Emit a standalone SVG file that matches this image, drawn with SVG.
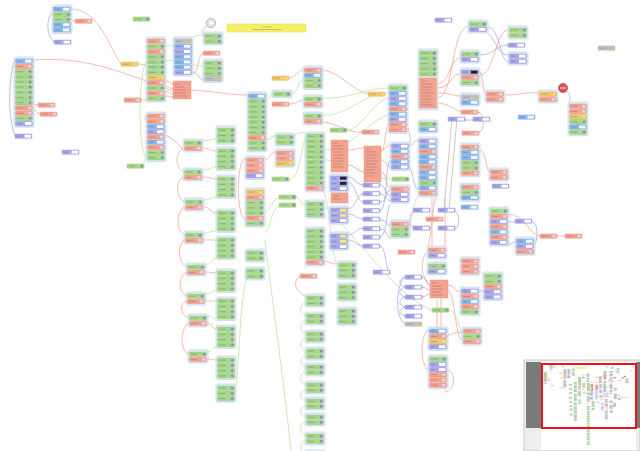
<svg xmlns="http://www.w3.org/2000/svg" width="640" height="451" viewBox="0 0 640 451">
<style>
.c{fill:#e3edf9;stroke:#c3d7ef;stroke-width:.8}
.k{fill:none;stroke-width:.75;stroke-linecap:round}
.r{stroke:#f3a493}
.g{stroke:#bde09f}
.p{stroke:#aaa7e4}
.q{stroke:#b8b8b8}
.sb{fill:#f6a390;stroke:#e8836e;stroke-width:.4}
.tl{fill:none;stroke:#333;stroke-width:.8;opacity:.3}
</style>
<defs>
<g id="G"><rect width="17" height="4.3" rx=".7" fill="#a8d98a" stroke="#88c566" stroke-width=".4"/><path class="tl" d="M1.6 2.2h6.5"/><circle cx="14.7" cy="2.15" r="1.3" fill="#8e88c6"/></g>
<g id="R"><rect width="17" height="4.3" rx=".7" fill="#f6a491" stroke="#e8836e" stroke-width=".4"/><path class="tl" d="M1.6 2.2h6.5"/><rect x="12.6" y=".8" width="3.3" height="2.7" fill="#dcd6e8"/></g>
<g id="B"><rect width="17" height="4.3" rx=".7" fill="#8cb7ea" stroke="#6d9bd9" stroke-width=".4"/><path class="tl" d="M1.6 2.2h5"/><rect x="9.5" y=".7" width="6.5" height="2.9" fill="#f4f8ff"/></g>
<g id="P"><rect width="17" height="4.3" rx=".7" fill="#aaa8e8" stroke="#8b88d6" stroke-width=".4"/><path class="tl" d="M1.6 2.2h4.5"/><rect x="9.5" y=".7" width="6.5" height="2.9" fill="#fff"/></g>
<g id="Q"><rect width="17" height="4.3" rx=".7" fill="#aaa8e8" stroke="#8b88d6" stroke-width=".4"/><path class="tl" d="M1.6 2.2h4.5"/><rect x="9.5" y=".7" width="6.5" height="2.9" fill="#222"/></g>
<g id="W"><rect width="17" height="4.3" rx=".7" fill="#aaa8e8" stroke="#8b88d6" stroke-width=".4"/><path class="tl" d="M1.6 2.2h4.5"/><rect x="9.5" y=".7" width="6.5" height="2.9" fill="#f5e87a"/></g>
<g id="Y"><rect width="17" height="4.3" rx=".7" fill="#f2c96c" stroke="#d8aa45" stroke-width=".4"/><path class="tl" d="M1.6 2.2h6.5"/><circle cx="14.7" cy="2.15" r="1.3" fill="#f6e08a"/></g>
<g id="K"><rect width="17" height="4.3" rx=".7" fill="#c3c3c3" stroke="#a5a5a5" stroke-width=".4"/><path class="tl" d="M1.6 2.2h6.5"/><circle cx="14.7" cy="2.15" r="1.3" fill="#f0c040"/></g>
<g id="pair"><rect class="c" width="20" height="13" rx="1.5"/><use href="#G" x="1.5" y="2"/><use href="#R" x="1.5" y="7.2"/></g>
<g id="gg"><rect class="c" width="20" height="13" rx="1.5"/><use href="#G" x="1.5" y="2"/><use href="#G" x="1.5" y="7.2"/></g>
<g id="g3"><rect class="c" width="20" height="18.2" rx="1.5"/><use href="#G" x="1.5" y="2"/><use href="#G" x="1.5" y="7.2"/><use href="#G" x="1.5" y="12.4"/></g>
<g id="g4"><rect class="c" width="20" height="23.4" rx="1.5"/><use href="#G" x="1.5" y="2"/><use href="#G" x="1.5" y="7.2"/><use href="#G" x="1.5" y="12.4"/><use href="#G" x="1.5" y="17.6"/></g>
</defs>
<rect width="640" height="451" fill="#fff"/>
<g id="all">
<g id="connectors">
<path class="k r" d="M71,9 C100,9 110,50 121,64 M33,60 C90,55 135,78 173,91 M71,20 C73,20 73,21 75,21 M33,104 C35,104 36,105 38,105 M33,109 C37,110 36,114 40,114 M191,90 C215,91 228,95 247,95 M166,81 C170,81 169,84 173,84 M166,86 C170,86 169,89 173,89 M166,91 C170,91 169,94 173,94 M166,96 C170,96 169,97 173,97 M138,64 C142,64 142,65 146,65 M141,100 C144,100 143,100 146,100 M193,73 C199,73 198,53 203,53 M265,140 C272,140 270,136 275,136 M245,158 C236,162 236,215 245,220 M265,160 C270,160 270,152 275,152 M289,78 C295,78 298,70 303,70 M289,104 C298,104 298,100 303,100 M323,70 C340,72 355,92 368,94 M146,115 C138,125 176,135 183,150 M381,152 C385,152 385,128 388,126 M323,122 C340,124 350,134 362,132"/>
<path class="k r" d="M203,148 C210,148 210,151 216,151 M203,177 C210,177 210,179 216,179 M204,207 C210,207 210,213 216,213 M204,240 C210,240 210,240 216,240 M206,272 C211,272 211,273 216,273 M206,301 C211,301 211,301 216,301 M208,323 C212,323 212,329 216,329 M208,359 C212,359 212,360 216,360"/>
<path class="k r" d="M183,148 C175,153 175,167 183,172 M183,177 C175,182 176,197 184,202 M184,207 C176,213 176,230 184,235 M184,240 C177,246 178,262 186,267 M186,272 C178,278 178,291 186,296 M186,301 C179,305 180,313 188,318 M188,323 C180,330 180,349 188,354"/>
<path class="k r" d="M437,84 C450,84 450,58 460,58 M437,88 C452,88 450,74 460,74 M437,93 C452,93 452,96 460,96 M437,98 C455,98 450,30 468,26 M437,103 C448,103 455,110 461,112 M480,75 C495,75 495,30 508,30 M480,72 C484,72 482,93 485,93 M505,95 C520,95 525,92 538,93 M478,112 C485,112 485,131 479,133 M480,150 C486,150 486,170 489,172 M508,214 C525,214 530,236 540,236 M557,236 C560,236 562,236 565,236 M437,195 C432,200 432,240 427,250 M445,198 L445,246 M432,198 L432,246 M427,252 C420,260 420,275 430,285 M448,285 C455,285 455,292 460,292 M448,290 C455,290 455,340 462,340 M428,330 C420,335 420,365 428,370 M437,300 L437,327 M441,298 L441,327 M382,150 C386,150 386,145 390,145 M382,160 C386,160 386,167 390,167 M382,172 C386,172 386,188 390,188 M348,150 C355,150 357,148 364,148 M348,165 C356,165 356,172 364,172 M323,260 C330,262 330,264 337,264 M300,276 C292,280 295,292 305,296 M408,147 C412,147 410,133 408,128 M448,335 C452,335 455,332 462,332 M448,370 C456,372 456,390 445,392"/>
<path class="k g" d="M146,62 C138,75 138,150 146,158 M166,46 C185,46 188,35 203,35 M166,60 C185,60 190,66 203,66 M143,166 C144,166 144,160 146,158 M265,100 C270,100 270,95 272,93 M293,93 C298,93 298,80 303,80 M265,240 C272,300 284,380 293,470 M247,272 C238,320 240,360 236,386 M265,232 C270,232 272,206 279,206 M265,212 C270,212 273,198 279,198 M289,180 C300,180 300,150 305,140 M296,197 C300,197 300,205 305,205 M323,98 C345,100 368,88 388,88 M323,115 C345,118 365,92 388,93 M348,130 C360,130 375,100 388,98 M323,205 C360,240 400,300 432,310 M323,190 C330,200 330,250 337,265 M408,225 C412,225 414,196 418,196 M448,310 C455,310 458,320 462,335 M203,141 C210,141 210,139 216,139 M203,170 C210,170 210,167 216,167 M204,200 C210,200 210,197 216,197 M204,233 C210,233 210,231 216,231 M206,265 C211,265 211,258 216,258 M206,294 C211,294 211,291 216,291 M208,316 C212,316 212,319 216,319 M208,352 C212,352 212,347 216,347 M293,135 C298,135 300,130 305,134 M325,150 C350,150 370,120 388,115 M325,160 C355,160 365,180 392,179"/>
<path class="k g" d="M305,302 C299,306 299,313 305,316 M305,320 C299,324 299,331 305,334 M305,338 C299,342 299,348 305,351 M305,355 C299,359 299,364 305,367 M305,371 C299,375 299,382 305,385 M305,389 C299,393 299,398 305,401 M305,405 C299,409 299,414 305,417 M305,421 C299,425 299,433 305,436 M305,440 C299,444 299,451 305,454 M305,458 C299,462 299,469 305,472 M305,476 C299,480 299,487 305,490 M305,494 C299,498 299,505 305,508 M305,512 C299,516 299,523 305,526 M305,530 C299,534 299,541 305,544 M305,548 C299,552 299,559 305,562"/>
<path class="k p" d="M52,12 C46,20 46,35 54,42 M14,62 C8,80 8,120 15,136 M193,72 C198,72 198,79 203,80 M348,177 C355,177 356,185 363,185 M348,182 C356,182 356,202 363,202 M348,209 C356,209 356,194 363,194 M348,214 C356,214 356,219 363,219 M348,235 C356,235 356,228 363,228 M348,240 C356,240 356,246 363,246 M380,185 C386,185 385,196 390,196 M380,194 C386,194 385,200 390,201 M380,202 C388,202 385,190 390,190 M380,211 C388,211 385,160 390,160 M380,220 C388,220 386,226 390,226 M380,229 C388,229 386,238 390,238 M380,237 C388,237 386,205 390,205 M380,246 C386,246 386,272 389,272 M408,147 C413,147 413,140 418,140 M408,165 C413,165 413,190 418,190 M405,277 C398,280 398,285 405,287 M405,287 C398,290 398,295 405,297 M405,297 C398,300 398,305 405,307 M405,307 C398,310 398,314 405,316 M405,277 C395,285 395,320 405,324 M422,277 C426,277 426,285 430,285 M422,287 C426,287 426,290 430,290 M422,297 C426,297 426,294 430,294 M480,55 C495,55 495,45 508,45 M480,30 C495,30 495,55 508,55 M488,27 C500,27 500,62 508,62 M465,120 C468,120 470,120 473,120 M415,211 C408,211 408,229 415,229 M455,211 C460,211 460,229 455,229 M508,222 C512,222 512,222 515,222 M533,222 C538,222 538,240 535,244 M508,245 C512,245 512,242 515,242 M478,290 C485,290 485,295 483,297"/>
<path class="k q" d="M452,118 L444,210 M457,118 L449,210 M207,26 C202,29 202,33 204,35 M567,91 C571,95 571,100 568,104"/>
</g>
<g id="n1" transform="translate(52,5)"><rect class="c" width="20" height="28.6" rx="1.5"/><use href="#B" x="1.5" y="2"/><use href="#G" x="1.5" y="7.2"/><use href="#G" x="1.5" y="12.4"/><use href="#B" x="1.5" y="17.6"/><use href="#B" x="1.5" y="22.8"/></g>
<g id="n1b"><use href="#P" x="54" y="40"/></g>
<g id="n2"><use href="#R" x="75" y="19"/></g>
<g id="n3"><use href="#G" x="133" y="17"/></g>
<g id="n4" transform="translate(14,57)"><rect class="c" width="20" height="70.2" rx="1.5"/><use href="#B" x="1.5" y="2"/><use href="#R" x="1.5" y="7.2"/><use href="#G" x="1.5" y="12.4"/><use href="#G" x="1.5" y="17.6"/><use href="#G" x="1.5" y="22.8"/><use href="#G" x="1.5" y="28"/><use href="#G" x="1.5" y="33.2"/><use href="#G" x="1.5" y="38.4"/><use href="#G" x="1.5" y="43.6"/><use href="#R" x="1.5" y="48.8"/><use href="#R" x="1.5" y="54"/><use href="#G" x="1.5" y="59.2"/><use href="#P" x="1.5" y="64.4"/></g>
<g id="n5"><use href="#P" x="15" y="134"/></g>
<g id="n6"><use href="#R" x="38" y="103"/></g>
<g id="n7"><use href="#R" x="40" y="112"/></g>
<g id="n8"><use href="#P" x="62" y="150"/></g>
<g id="n9"><use href="#Y" x="121" y="62"/></g>
<g id="n10"><use href="#R" x="124" y="98"/></g>
<g id="n11" transform="translate(146,37)"><rect class="c" width="20" height="65" rx="1.5"/><use href="#R" x="1.5" y="2"/><use href="#G" x="1.5" y="7.2"/><use href="#R" x="1.5" y="12.4"/><use href="#G" x="1.5" y="17.6"/><use href="#G" x="1.5" y="22.8"/><use href="#G" x="1.5" y="28"/><use href="#G" x="1.5" y="33.2"/><use href="#Y" x="1.5" y="38.4"/><use href="#R" x="1.5" y="43.6"/><use href="#G" x="1.5" y="48.8"/><use href="#R" x="1.5" y="54"/><use href="#G" x="1.5" y="59.2"/></g>
<g id="n12" transform="translate(173,37)"><rect class="c" width="20" height="39" rx="1.5"/><use href="#K" x="1.5" y="2"/><use href="#B" x="1.5" y="7.2"/><use href="#P" x="1.5" y="12.4"/><use href="#B" x="1.5" y="17.6"/><use href="#B" x="1.5" y="22.8"/><use href="#B" x="1.5" y="28"/><use href="#P" x="1.5" y="33.2"/></g>
<g id="n13"><rect class="sb" x="173" y="81" width="18" height="18" rx=".6"/><path class="tl" d="M175,84h5M175,87h9M175,90h11M175,93h10M175,96h12"/></g>
<g id="n14"><circle cx="211" cy="23" r="4.5" fill="#f2f2f2" stroke="#999" stroke-width=".8"/><circle cx="211" cy="23" r="2.5" fill="#fff" stroke="#bbb" stroke-width=".5"/></g>
<g id="n15" transform="translate(203,32)"><rect class="c" width="20" height="13" rx="1.5"/><use href="#G" x="1.5" y="2"/><use href="#G" x="1.5" y="7.2"/></g>
<g id="n16"><use href="#R" x="203" y="51"/></g>
<g id="n17" transform="translate(203,59)"><rect class="c" width="20" height="23.4" rx="1.5"/><use href="#G" x="1.5" y="2"/><use href="#G" x="1.5" y="7.2"/><use href="#G" x="1.5" y="12.4"/><use href="#K" x="1.5" y="17.6"/></g>
<g id="n18" transform="translate(146,112)"><rect class="c" width="20" height="49.4" rx="1.5"/><use href="#R" x="1.5" y="2"/><use href="#R" x="1.5" y="7.2"/><use href="#B" x="1.5" y="12.4"/><use href="#P" x="1.5" y="17.6"/><use href="#R" x="1.5" y="22.8"/><use href="#B" x="1.5" y="28"/><use href="#R" x="1.5" y="33.2"/><use href="#G" x="1.5" y="38.4"/><use href="#G" x="1.5" y="43.6"/></g>
<g id="n19"><use href="#G" x="127" y="164"/></g>
<g id="n20"><rect x="227" y="24" width="79" height="8" fill="#f7ef6a" stroke="#e6d84a" stroke-width=".5"/><path class="tl" d="M262,27h9M252,29.5h30"/></g>
<g id="n21" transform="translate(247,92)"><rect class="c" width="20" height="59.8" rx="1.5"/><use href="#B" x="1.5" y="2"/><use href="#G" x="1.5" y="7.2"/><use href="#G" x="1.5" y="12.4"/><use href="#G" x="1.5" y="17.6"/><use href="#G" x="1.5" y="22.8"/><use href="#G" x="1.5" y="28"/><use href="#G" x="1.5" y="33.2"/><use href="#G" x="1.5" y="38.4"/><use href="#R" x="1.5" y="43.6"/><use href="#G" x="1.5" y="48.8"/><use href="#G" x="1.5" y="54"/></g>
<g id="n22" transform="translate(245,156)"><rect class="c" width="20" height="23.4" rx="1.5"/><use href="#R" x="1.5" y="2"/><use href="#R" x="1.5" y="7.2"/><use href="#R" x="1.5" y="12.4"/><use href="#P" x="1.5" y="17.6"/></g>
<g id="p1"><use href="#pair" x="183" y="139"/></g>
<g id="p2"><use href="#pair" x="183" y="168"/></g>
<g id="p3"><use href="#pair" x="184" y="198"/></g>
<g id="p4"><use href="#pair" x="184" y="231"/></g>
<g id="p5"><use href="#pair" x="186" y="263"/></g>
<g id="p6"><use href="#pair" x="186" y="292"/></g>
<g id="p7"><use href="#pair" x="188" y="314"/></g>
<g id="p8"><use href="#pair" x="188" y="350"/></g>
<g id="c1"><use href="#g3" x="216" y="126"/></g>
<g id="c2"><use href="#g4" x="216" y="147"/></g>
<g id="c3"><use href="#g4" x="216" y="175"/></g>
<g id="c4"><use href="#g4" x="216" y="209"/></g>
<g id="c5"><use href="#g4" x="216" y="236"/></g>
<g id="c6"><use href="#g4" x="216" y="269"/></g>
<g id="c7"><use href="#g4" x="216" y="297"/></g>
<g id="c8"><use href="#g4" x="216" y="325"/></g>
<g id="c9"><use href="#g4" x="216" y="356"/></g>
<g id="c10"><use href="#g3" x="216" y="384"/></g>
<g id="n23" transform="translate(245,188)"><rect class="c" width="20" height="39" rx="1.5"/><use href="#Y" x="1.5" y="2"/><use href="#R" x="1.5" y="7.2"/><use href="#G" x="1.5" y="12.4"/><use href="#G" x="1.5" y="17.6"/><use href="#G" x="1.5" y="22.8"/><use href="#R" x="1.5" y="28"/><use href="#G" x="1.5" y="33.2"/></g>
<g id="n24"><use href="#gg" x="245" y="249"/></g>
<g id="n25"><use href="#gg" x="245" y="267"/></g>
<g id="n26"><use href="#G" x="272" y="177"/></g>
<g id="n27"><use href="#G" x="279" y="195"/></g>
<g id="n28"><use href="#G" x="279" y="203"/></g>
<g id="n29"><use href="#gg" x="275" y="133"/></g>
<g id="n30" transform="translate(275,149)"><rect class="c" width="20" height="18.2" rx="1.5"/><use href="#R" x="1.5" y="2"/><use href="#R" x="1.5" y="7.2"/><use href="#Y" x="1.5" y="12.4"/></g>
<g id="n31"><use href="#Y" x="272" y="76"/></g>
<g id="n32" transform="translate(272,90)"><rect class="c" width="20" height="7.8" rx="1.5"/><use href="#G" x="1.5" y="2"/></g>
<g id="n33"><use href="#R" x="272" y="102"/></g>
<g id="n34" transform="translate(303,66)"><rect class="c" width="20" height="23.4" rx="1.5"/><use href="#R" x="1.5" y="2"/><use href="#B" x="1.5" y="7.2"/><use href="#G" x="1.5" y="12.4"/><use href="#G" x="1.5" y="17.6"/></g>
<g id="n35" transform="translate(303,95)"><rect class="c" width="20" height="13" rx="1.5"/><use href="#G" x="1.5" y="2"/><use href="#R" x="1.5" y="7.2"/></g>
<g id="n36" transform="translate(303,112)"><rect class="c" width="20" height="13" rx="1.5"/><use href="#G" x="1.5" y="2"/><use href="#R" x="1.5" y="7.2"/></g>
<g id="n37"><use href="#G" x="330" y="128"/></g>
<g id="n38"><use href="#Y" x="368" y="92"/></g>
<g id="n39"><use href="#R" x="362" y="130"/></g>
<g id="n40" transform="translate(388,84)"><rect class="c" width="20" height="49.4" rx="1.5"/><use href="#G" x="1.5" y="2"/><use href="#B" x="1.5" y="7.2"/><use href="#P" x="1.5" y="12.4"/><use href="#B" x="1.5" y="17.6"/><use href="#R" x="1.5" y="22.8"/><use href="#B" x="1.5" y="28"/><use href="#P" x="1.5" y="33.2"/><use href="#R" x="1.5" y="38.4"/><use href="#R" x="1.5" y="43.6"/></g>
<g id="n41" transform="translate(390,142)"><rect class="c" width="20" height="28.6" rx="1.5"/><use href="#P" x="1.5" y="2"/><use href="#B" x="1.5" y="7.2"/><use href="#R" x="1.5" y="12.4"/><use href="#B" x="1.5" y="17.6"/><use href="#P" x="1.5" y="22.8"/></g>
<g id="n42" transform="translate(390,185)"><rect class="c" width="20" height="18.2" rx="1.5"/><use href="#R" x="1.5" y="2"/><use href="#P" x="1.5" y="7.2"/><use href="#P" x="1.5" y="12.4"/></g>
<g id="n43" transform="translate(390,220)"><rect class="c" width="20" height="18.2" rx="1.5"/><use href="#R" x="1.5" y="2"/><use href="#G" x="1.5" y="7.2"/><use href="#G" x="1.5" y="12.4"/></g>
<g id="n44"><use href="#R" x="398" y="250"/></g>
<g id="n45"><use href="#P" x="373" y="270"/></g>
<g id="n46" transform="translate(305,132)"><rect class="c" width="20" height="59.8" rx="1.5"/><use href="#G" x="1.5" y="2"/><use href="#G" x="1.5" y="7.2"/><use href="#G" x="1.5" y="12.4"/><use href="#G" x="1.5" y="17.6"/><use href="#G" x="1.5" y="22.8"/><use href="#G" x="1.5" y="28"/><use href="#G" x="1.5" y="33.2"/><use href="#G" x="1.5" y="38.4"/><use href="#G" x="1.5" y="43.6"/><use href="#G" x="1.5" y="48.8"/><use href="#R" x="1.5" y="54"/></g>
<g id="n47"><use href="#g3" x="305" y="200"/></g>
<g id="n48" transform="translate(305,227)"><rect class="c" width="20" height="39" rx="1.5"/><use href="#G" x="1.5" y="2"/><use href="#G" x="1.5" y="7.2"/><use href="#G" x="1.5" y="12.4"/><use href="#G" x="1.5" y="17.6"/><use href="#G" x="1.5" y="22.8"/><use href="#G" x="1.5" y="28"/><use href="#R" x="1.5" y="33.2"/></g>
<g id="n49"><use href="#R" x="300" y="274"/></g>
<g id="n50"><use href="#g3" x="337" y="261"/></g>
<g id="n51"><use href="#g3" x="337" y="283"/></g>
<g id="n52"><use href="#g3" x="337" y="307"/></g>
<g id="d1"><use href="#gg" x="305" y="294"/></g>
<g id="d2"><use href="#gg" x="305" y="312"/></g>
<g id="d3"><use href="#gg" x="305" y="330"/></g>
<g id="d4"><use href="#gg" x="305" y="347"/></g>
<g id="d5"><use href="#gg" x="305" y="363"/></g>
<g id="d6"><use href="#gg" x="305" y="381"/></g>
<g id="d7"><use href="#gg" x="305" y="397"/></g>
<g id="d8"><use href="#gg" x="305" y="413"/></g>
<g id="d9"><use href="#gg" x="305" y="432"/></g>
<g id="d10"><use href="#gg" x="305" y="450"/></g>
<g id="d11"><use href="#gg" x="305" y="468"/></g>
<g id="d12"><use href="#gg" x="305" y="486"/></g>
<g id="d13"><use href="#gg" x="305" y="504"/></g>
<g id="d14"><use href="#gg" x="305" y="522"/></g>
<g id="d15"><use href="#gg" x="305" y="540"/></g>
<g id="d16"><use href="#gg" x="305" y="558"/></g>
<g id="n53"><rect class="sb" x="331" y="140" width="17" height="32" rx=".6"/><path class="tl" d="M333,143h5M333,146h10M333,149h11M333,152h9M333,155h12M333,158h10M333,161h11M333,164h9M333,167h11"/></g>
<g id="n54" transform="translate(329,174)"><rect class="c" width="20" height="18.2" rx="1.5"/><use href="#Q" x="1.5" y="2"/><use href="#Q" x="1.5" y="7.2"/><use href="#P" x="1.5" y="12.4"/></g>
<g id="n55"><rect class="sb" x="331" y="193" width="17" height="10" rx=".6"/><path class="tl" d="M333,196h6M333,199h10"/></g>
<g id="n56" transform="translate(329,206)"><rect class="c" width="20" height="18.2" rx="1.5"/><use href="#W" x="1.5" y="2"/><use href="#W" x="1.5" y="7.2"/><use href="#P" x="1.5" y="12.4"/></g>
<g id="n57" transform="translate(329,232)"><rect class="c" width="20" height="18.2" rx="1.5"/><use href="#W" x="1.5" y="2"/><use href="#W" x="1.5" y="7.2"/><use href="#P" x="1.5" y="12.4"/></g>
<g id="n58"><rect class="sb" x="364" y="146" width="17" height="36" rx=".6"/><path class="tl" d="M366,149h5M366,152h10M366,155h11M366,158h9M366,161h12M366,164h10M366,167h11M366,170h9M366,173h11M366,176h8"/></g>
<g id="n59"><use href="#P" x="363" y="183"/></g>
<g id="n60"><use href="#P" x="363" y="191.5"/></g>
<g id="n61"><use href="#P" x="363" y="200"/></g>
<g id="n62"><use href="#P" x="363" y="208.5"/></g>
<g id="n63"><use href="#P" x="363" y="217"/></g>
<g id="n64"><use href="#P" x="363" y="226.5"/></g>
<g id="n65"><use href="#P" x="363" y="235"/></g>
<g id="n66"><use href="#P" x="363" y="244"/></g>
<g id="n67"><use href="#G" x="392" y="177"/></g>
<g id="n68" transform="translate(418,49)"><rect class="c" width="20" height="61" rx="1.5"/><use href="#G" x="1.5" y="2"/><use href="#G" x="1.5" y="7.2"/><use href="#G" x="1.5" y="12.4"/><use href="#G" x="1.5" y="17.6"/><use href="#G" x="1.5" y="22.8"/><rect class="sb" x="1.5" y="29" width="17" height="30" rx=".6"/><path class="tl" d="M3.5,32h5M3.5,35h10M3.5,38h11M3.5,41h9M3.5,44h12M3.5,47h10M3.5,50h11M3.5,53h9M3.5,56h11"/></g>
<g id="n69" transform="translate(418,120)"><rect class="c" width="20" height="13" rx="1.5"/><use href="#G" x="1.5" y="2"/><use href="#B" x="1.5" y="7.2"/></g>
<g id="n70" transform="translate(418,137)"><rect class="c" width="20" height="59.8" rx="1.5"/><use href="#P" x="1.5" y="2"/><use href="#B" x="1.5" y="7.2"/><use href="#R" x="1.5" y="12.4"/><use href="#B" x="1.5" y="17.6"/><use href="#B" x="1.5" y="22.8"/><use href="#R" x="1.5" y="28"/><use href="#B" x="1.5" y="33.2"/><use href="#B" x="1.5" y="38.4"/><use href="#G" x="1.5" y="43.6"/><use href="#B" x="1.5" y="48.8"/><use href="#R" x="1.5" y="54"/></g>
<g id="n71"><use href="#P" x="413" y="208"/></g>
<g id="n72"><use href="#P" x="438" y="208"/></g>
<g id="n73"><use href="#R" x="426" y="217"/></g>
<g id="n74"><use href="#P" x="413" y="226"/></g>
<g id="n75"><use href="#P" x="438" y="226"/></g>
<g id="n76" transform="translate(427,246)"><rect class="c" width="20" height="13" rx="1.5"/><use href="#R" x="1.5" y="2"/><use href="#P" x="1.5" y="7.2"/></g>
<g id="n77" transform="translate(427,262)"><rect class="c" width="20" height="13" rx="1.5"/><use href="#G" x="1.5" y="2"/><use href="#P" x="1.5" y="7.2"/></g>
<g id="n78"><rect class="sb" x="430" y="280" width="18" height="18" rx=".6"/><path class="tl" d="M432,283h5M432,286h10M432,289h11M432,292h9M432,295h12"/></g>
<g id="n79"><use href="#P" x="405" y="275"/></g>
<g id="n80"><use href="#P" x="405" y="285"/></g>
<g id="n81"><use href="#P" x="405" y="295"/></g>
<g id="n82"><use href="#P" x="405" y="305"/></g>
<g id="n83"><use href="#P" x="405" y="314"/></g>
<g id="n84"><use href="#G" x="432" y="308"/></g>
<g id="n85"><use href="#K" x="405" y="322"/></g>
<g id="n86" transform="translate(428,327)"><rect class="c" width="20" height="23.4" rx="1.5"/><use href="#B" x="1.5" y="2"/><use href="#R" x="1.5" y="7.2"/><use href="#Y" x="1.5" y="12.4"/><use href="#P" x="1.5" y="17.6"/></g>
<g id="n87" transform="translate(462,327)"><rect class="c" width="20" height="18.2" rx="1.5"/><use href="#R" x="1.5" y="2"/><use href="#G" x="1.5" y="7.2"/><use href="#R" x="1.5" y="12.4"/></g>
<g id="n88" transform="translate(428,355)"><rect class="c" width="20" height="33.8" rx="1.5"/><use href="#G" x="1.5" y="2"/><use href="#P" x="1.5" y="7.2"/><use href="#P" x="1.5" y="12.4"/><use href="#R" x="1.5" y="17.6"/><use href="#R" x="1.5" y="22.8"/><use href="#R" x="1.5" y="28"/></g>
<g id="n89" transform="translate(460,287)"><rect class="c" width="20" height="28.6" rx="1.5"/><use href="#P" x="1.5" y="2"/><use href="#R" x="1.5" y="7.2"/><use href="#B" x="1.5" y="12.4"/><use href="#R" x="1.5" y="17.6"/><use href="#G" x="1.5" y="22.8"/></g>
<g id="n90" transform="translate(483,272)"><rect class="c" width="20" height="28.6" rx="1.5"/><use href="#G" x="1.5" y="2"/><use href="#G" x="1.5" y="7.2"/><use href="#R" x="1.5" y="12.4"/><use href="#P" x="1.5" y="17.6"/><use href="#P" x="1.5" y="22.8"/></g>
<g id="n91"><use href="#P" x="435" y="18"/></g>
<g id="n92" transform="translate(468,20)"><rect class="c" width="20" height="13" rx="1.5"/><use href="#G" x="1.5" y="2"/><use href="#P" x="1.5" y="7.2"/></g>
<g id="n93" transform="translate(508,26)"><rect class="c" width="20" height="13" rx="1.5"/><use href="#G" x="1.5" y="2"/><use href="#G" x="1.5" y="7.2"/></g>
<g id="n94"><use href="#P" x="508" y="43"/></g>
<g id="n95" transform="translate(508,52)"><rect class="c" width="20" height="13" rx="1.5"/><use href="#P" x="1.5" y="2"/><use href="#P" x="1.5" y="7.2"/></g>
<g id="n96" transform="translate(460,50)"><rect class="c" width="20" height="13" rx="1.5"/><use href="#G" x="1.5" y="2"/><use href="#P" x="1.5" y="7.2"/></g>
<g id="n97" transform="translate(460,68)"><rect class="c" width="20" height="18.2" rx="1.5"/><use href="#Q" x="1.5" y="2"/><use href="#R" x="1.5" y="7.2"/><use href="#G" x="1.5" y="12.4"/></g>
<g id="n98" transform="translate(460,93)"><rect class="c" width="20" height="13" rx="1.5"/><use href="#K" x="1.5" y="2"/><use href="#B" x="1.5" y="7.2"/></g>
<g id="n99" transform="translate(485,90)"><rect class="c" width="20" height="13" rx="1.5"/><use href="#R" x="1.5" y="2"/><use href="#R" x="1.5" y="7.2"/></g>
<g id="n100"><use href="#R" x="461" y="110"/></g>
<g id="n101"><use href="#P" x="448" y="117"/></g>
<g id="n102"><use href="#P" x="473" y="117"/></g>
<g id="n103"><use href="#B" x="518" y="115"/></g>
<g id="n104"><use href="#R" x="462" y="131"/></g>
<g id="n105" transform="translate(460,143)"><rect class="c" width="20" height="33.8" rx="1.5"/><use href="#R" x="1.5" y="2"/><use href="#B" x="1.5" y="7.2"/><use href="#B" x="1.5" y="12.4"/><use href="#G" x="1.5" y="17.6"/><use href="#G" x="1.5" y="22.8"/><use href="#R" x="1.5" y="28"/></g>
<g id="n106" transform="translate(460,183)"><rect class="c" width="20" height="18.2" rx="1.5"/><use href="#R" x="1.5" y="2"/><use href="#G" x="1.5" y="7.2"/><use href="#B" x="1.5" y="12.4"/></g>
<g id="n107"><use href="#B" x="461" y="205"/></g>
<g id="n108" transform="translate(489,168)"><rect class="c" width="20" height="13" rx="1.5"/><use href="#R" x="1.5" y="2"/><use href="#R" x="1.5" y="7.2"/></g>
<g id="n109"><use href="#P" x="492" y="184"/></g>
<g id="n110" transform="translate(489,207)"><rect class="c" width="20" height="39" rx="1.5"/><use href="#G" x="1.5" y="2"/><use href="#R" x="1.5" y="7.2"/><use href="#P" x="1.5" y="12.4"/><use href="#R" x="1.5" y="17.6"/><use href="#B" x="1.5" y="22.8"/><use href="#R" x="1.5" y="28"/><use href="#P" x="1.5" y="33.2"/></g>
<g id="n111"><use href="#P" x="515" y="219"/></g>
<g id="n112" transform="translate(515,237)"><rect class="c" width="20" height="18.2" rx="1.5"/><use href="#B" x="1.5" y="2"/><use href="#P" x="1.5" y="7.2"/><use href="#R" x="1.5" y="12.4"/></g>
<g id="n113" transform="translate(460,257)"><rect class="c" width="20" height="18.2" rx="1.5"/><use href="#R" x="1.5" y="2"/><use href="#R" x="1.5" y="7.2"/><use href="#R" x="1.5" y="12.4"/></g>
<g id="n114"><use href="#R" x="540" y="234"/></g>
<g id="n115"><use href="#R" x="565" y="234"/></g>
<g id="n116" transform="translate(538,90)"><rect class="c" width="20" height="13" rx="1.5"/><use href="#Y" x="1.5" y="2"/><use href="#R" x="1.5" y="7.2"/></g>
<g id="n117"><circle cx="563" cy="88" r="4.5" fill="#e05050" stroke="#a03030" stroke-width=".6"/><rect x="560" y="87.3" width="6" height="1.4" fill="#f7c0c0"/></g>
<g id="n118" transform="translate(568,102)"><rect class="c" width="20" height="33.8" rx="1.5"/><use href="#R" x="1.5" y="2"/><use href="#R" x="1.5" y="7.2"/><use href="#Y" x="1.5" y="12.4"/><use href="#G" x="1.5" y="17.6"/><use href="#B" x="1.5" y="22.8"/><use href="#G" x="1.5" y="28"/></g>
<g id="n119"><use href="#K" x="598" y="46"/></g>
</g>
<g id="minimap">
<rect x="524" y="360" width="116" height="91" fill="#eeeeee" stroke="#c8c8c8" stroke-width="1"/>
<rect x="541" y="362" width="95" height="88" fill="#fff"/>
<rect x="526" y="362" width="15" height="66" fill="#7a7a7a"/>
<rect x="636" y="362" width="4" height="66" fill="#7a7a7a"/>
<use href="#all" transform="translate(542,364) scale(0.147,0.142)"/>
<rect x="542" y="364" width="94" height="64" fill="none" stroke="#e8141e" stroke-width="2"/>
</g>
</svg>
